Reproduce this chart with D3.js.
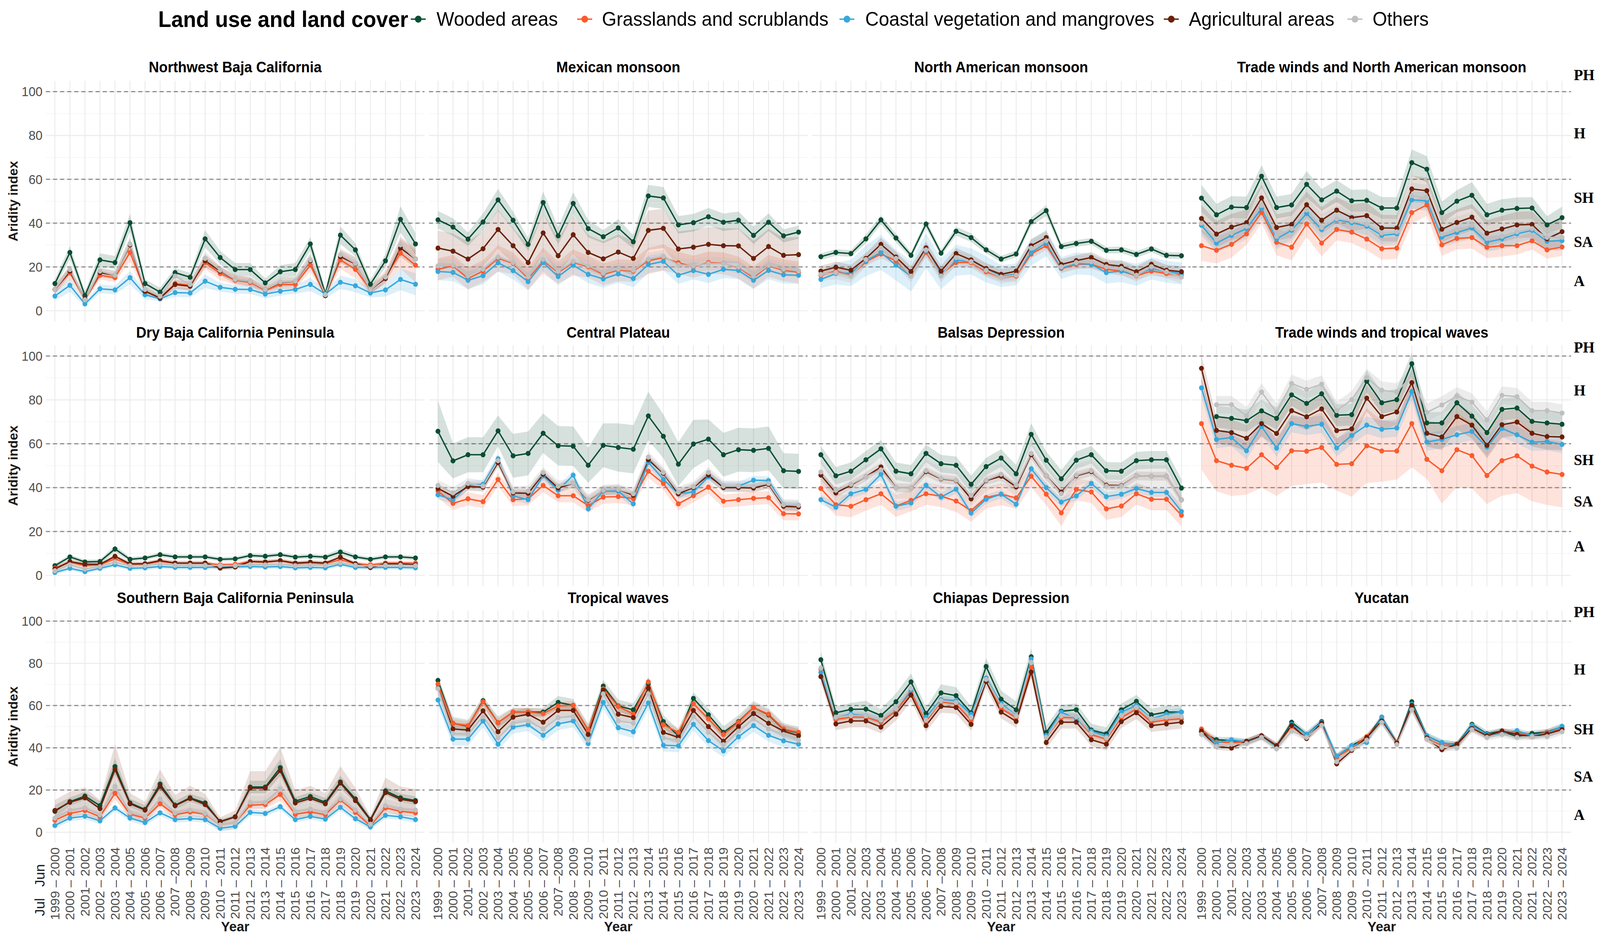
<!DOCTYPE html>
<html><head><meta charset="utf-8">
<script src="https://cdn.jsdelivr.net/npm/d3@7/dist/d3.min.js"></script>
<style>
html,body{margin:0;padding:0;background:#fff;overflow:hidden;width:100%;height:100%}
svg{display:block}
</style>
</head><body>
<svg id="chart" viewBox="0 0 4277 2395" preserveAspectRatio="none" style="width:100vw;height:100vh"></svg>
<script>
// ---------------- DATA ----------------
const regions = ["Northwest Baja California","Mexican monsoon","North American monsoon","Trade winds and North American monsoon",
  "Dry Baja California Peninsula","Central Plateau","Balsas Depression","Trade winds and tropical waves",
  "Southern Baja California Peninsula","Tropical waves","Chiapas Depression","Yucatan"];
const coverTypes = ["Wooded areas","Grasslands and scrublands","Coastal vegetation and mangroves","Agricultural areas","Others"];
const coverColors = ["#0a4d33","#fb5a2d","#36a8dc","#6a2009","#bfbfbf"];
const yearLabels = ["1999 \u2013 2000","2000 \u2013 2001","2001\u2013 2002","2002 \u2013 2003","2003 \u2013 2004","2004 \u2013 2005",
  "2005 \u2013 2006","2006 \u2013 2007","2007 \u20132008","2008 \u2013 2009","2009 \u2013 2010","2010 \u2013 2011","2011 \u2013 2012",
  "2012 \u2013 2013","2013 \u2013 2014","2014 \u2013 2015","2015 \u2013 2016","2016 \u2013 2017","2017 \u2013 2018","2018 \u2013 2019",
  "2019 \u2013 2020","2020 \u2013 2021","2021 \u2013 2022","2022 \u2013 2023","2023 \u2013 2024"];
const yTicks = [0,20,40,60,80,100];
const minorTicks = [10,30,50,70,90];
const zoneThresholds = [20,40,60,100];
const zoneNames = ["PH","H","SH","SA","A"];

const woodedAreas = [
 [12.4,26.6,6.9,23.2,22.0,40.2,12.4,8.5,17.4,15.3,32.8,24.3,18.8,18.8,12.7,17.8,18.8,30.5,7.7,34.5,27.8,12.1,22.8,41.7,30.5],
 [41.5,38.2,32.7,40.5,50.6,41.3,30.3,49.4,34.2,49.0,37.5,33.8,37.8,31.5,52.4,51.5,39.2,40.2,42.9,40.4,41.3,34.4,40.4,34.2,35.9],
 [24.7,26.6,26.1,32.8,41.5,33.2,25.3,39.6,26.3,36.3,33.4,27.8,23.6,25.9,40.7,45.7,29.3,30.7,31.7,27.6,27.8,25.7,28.2,25.3,25.1],
 [51.4,43.8,47.3,47.1,61.4,47.1,48.3,57.7,50.6,54.6,50.2,50.4,46.9,46.9,67.6,64.6,44.8,50.0,52.7,43.8,45.9,46.7,46.9,39.2,42.5],
 [4.4,8.4,6.1,6.3,12.0,7.3,7.9,9.4,8.4,8.4,8.4,7.3,7.5,9.0,8.7,9.4,8.3,8.7,8.3,10.6,8.4,7.3,8.4,8.4,7.9],
 [65.7,52.2,55.0,55.0,65.9,54.5,55.6,64.8,59.1,58.9,50.2,59.3,58.3,57.5,72.7,63.4,50.7,59.9,62.1,55.0,57.3,57.0,57.9,47.7,47.4],
 [55.0,45.4,47.5,52.7,57.7,47.5,46.3,55.6,50.9,50.2,41.5,49.6,53.5,46.3,64.3,52.5,44.0,52.5,55.0,47.7,47.5,52.3,52.7,52.7,39.8],
 [null,72.4,71.6,70.5,75.0,71.6,82.3,78.4,82.8,73.0,73.3,88.5,78.7,80.1,96.5,69.5,69.5,78.7,72.6,65.1,75.7,76.3,70.2,69.5,68.9],
 [9.9,14.5,17.1,12.6,31.1,13.9,10.8,22.8,12.8,16.3,13.9,4.9,7.3,21.4,21.4,30.6,14.7,16.9,14.2,23.8,15.8,6.0,19.6,16.3,15.0],
 [71.9,51.6,50.2,62.3,51.9,56.9,56.9,56.9,61.5,60.1,48.4,69.2,59.8,58.0,70.3,52.4,45.7,63.4,55.6,47.3,52.4,59.1,55.6,48.7,47.0],
 [81.7,56.6,58.2,58.3,55.3,61.8,71.2,56.2,66.0,64.7,56.6,78.5,63.0,58.0,83.1,47.3,57.3,58.0,48.4,46.6,58.0,62.0,55.6,56.9,56.9],
 [47.6,43.8,43.4,42.7,45.5,40.6,52.1,46.3,52.4,35.6,41.0,44.7,54.5,42.3,61.8,45.7,42.3,41.5,51.1,46.6,47.9,45.3,46.8,47.4,50.0]
];
const grasslands = [
 [9.7,17.4,5.0,16.2,15.1,26.6,9.3,5.8,12.4,11.6,22.0,17.0,13.9,12.9,9.3,12.0,12.0,20.8,6.9,23.2,18.9,9.7,15.4,26.3,20.8],
 [18.9,20.5,14.7,18.1,23.9,21.6,14.7,22.8,17.4,22.0,20.1,16.6,18.5,18.1,22.8,24.3,21.9,20.1,22.0,21.6,19.7,15.1,20.5,18.5,17.5],
 [16.2,18.1,16.2,22.4,25.9,22.8,16.2,26.6,16.6,22.0,22.0,17.8,15.4,15.8,25.9,29.7,19.3,21.2,21.2,18.9,18.1,16.0,18.1,17.0,16.2],
 [29.7,27.6,30.3,35.1,44.9,31.3,29.0,39.6,30.9,37.1,35.9,32.7,28.3,28.6,44.8,48.3,30.1,33.0,33.4,29.0,29.7,29.7,31.9,27.8,29.1],
 [3.3,6.0,4.4,4.8,7.5,5.0,5.2,6.3,5.6,5.6,5.6,4.8,5.0,6.3,6.0,6.7,5.3,5.7,5.3,7.1,5.3,4.8,5.6,5.6,5.6],
 [38.4,32.8,34.9,33.6,43.7,34.5,34.9,41.0,36.3,36.3,31.8,35.7,35.9,35.0,47.5,41.9,32.6,36.3,40.2,33.8,34.5,35.1,35.4,28.1,28.0],
 [39.6,32.2,31.5,34.5,37.2,31.6,34.2,37.2,36.1,33.9,29.5,35.5,37.0,35.3,45.2,37.0,28.5,39.2,38.0,30.3,31.6,37.2,34.7,34.7,27.4],
 [69.2,52.3,50.2,48.8,55.0,49.2,56.8,56.6,58.3,50.6,50.9,59.1,56.7,56.7,69.2,52.9,47.7,57.3,54.6,45.5,52.3,54.5,49.8,47.1,46.0],
 [5.7,8.9,10.3,7.3,18.5,8.5,6.7,13.5,8.3,9.6,8.5,3.5,4.6,12.8,13.1,17.9,8.5,9.6,8.3,15.3,9.4,3.0,11.5,9.9,9.2],
 [70.1,51.6,50.5,61.8,51.9,56.9,56.9,56.2,59.8,60.1,48.4,67.9,59.6,55.9,71.2,50.9,47.3,60.9,53.7,46.3,52.1,59.1,55.9,48.9,47.3],
 [77.2,53.4,54.5,54.5,52.1,57.5,66.6,52.4,61.8,60.7,53.0,73.0,58.5,54.3,78.0,44.9,54.3,54.3,46.3,44.1,54.3,58.3,52.1,53.2,53.7],
 [48.9,42.7,42.5,42.7,45.5,41.0,50.0,44.9,51.3,35.6,39.9,45.3,52.7,42.5,60.1,44.1,41.2,41.2,49.5,45.7,47.6,47.3,45.7,47.4,48.9]
];
const coastalVegetation = [
 [6.7,11.6,3.1,10.0,9.5,15.1,7.3,5.4,8.3,8.1,13.5,10.7,9.8,9.7,7.6,8.9,9.7,12.0,7.6,13.0,11.4,8.1,9.5,14.3,12.1],
 [17.9,17.5,13.9,16.0,21.9,18.3,13.3,22.0,15.6,20.8,16.6,14.5,16.8,14.7,21.1,22.5,16.2,18.3,16.6,18.9,18.4,13.9,18.4,16.4,16.2],
 [14.3,17.0,17.2,22.8,26.6,20.8,15.8,27.4,16.8,23.0,22.5,18.9,15.8,16.6,26.6,30.9,19.5,21.6,21.2,17.4,18.1,16.4,19.3,17.8,17.0],
 [39.0,30.9,34.4,37.5,46.7,32.8,36.7,44.4,37.1,41.5,40.2,38.6,34.4,35.1,50.6,50.2,33.6,35.7,37.8,31.3,32.8,35.1,36.7,31.7,32.0],
 [1.3,3.2,1.7,3.2,4.8,3.2,3.4,4.0,3.6,3.6,3.6,3.8,3.8,4.0,3.8,4.0,3.4,3.6,3.4,5.0,3.6,3.5,3.6,3.6,3.4],
 [36.7,34.4,41.1,41.5,53.2,36.2,34.5,45.4,38.8,45.7,30.3,38.4,38.4,32.6,51.5,43.8,37.2,38.0,45.0,40.7,40.7,43.4,43.2,32.2,32.0],
 [34.5,31.1,37.2,39.2,46.1,31.5,33.0,41.1,35.7,39.3,28.4,34.7,37.0,32.4,48.6,40.0,33.4,36.2,41.9,35.9,37.0,39.6,37.8,37.8,29.1],
 [85.5,62.0,62.8,56.8,67.9,58.0,69.2,67.9,68.9,58.1,63.8,68.5,66.6,67.2,83.8,60.8,62.0,64.1,65.6,58.5,67.0,64.1,60.7,61.0,59.7],
 [3.2,6.7,7.6,5.4,11.5,6.7,4.6,9.2,6.0,6.5,6.0,1.9,2.8,9.4,8.9,12.1,6.0,7.5,6.2,11.8,6.4,2.5,8.0,7.3,6.0],
 [62.6,44.1,44.1,52.7,41.7,49.8,50.9,45.9,51.3,52.7,42.0,61.5,49.5,47.6,61.2,41.2,40.9,51.1,43.4,38.5,45.2,50.5,45.9,43.3,41.7],
 [75.6,54.3,55.9,55.1,53.0,58.5,67.3,54.5,62.8,62.3,55.9,73.0,60.9,55.3,82.1,45.9,56.9,53.7,47.9,45.5,56.9,60.1,53.7,55.9,56.9],
 [47.3,42.3,43.8,42.7,45.5,40.6,51.1,46.3,52.0,36.1,41.0,42.5,54.5,42.3,60.7,45.7,42.5,41.2,50.6,46.3,46.8,48.1,45.7,47.0,50.2]
];
const agriculturalAreas = [
 [9.7,18.1,5.4,17.4,16.2,30.1,8.9,5.8,12.0,11.2,22.8,18.1,14.3,13.4,9.7,12.9,13.4,22.8,6.9,24.7,21.4,9.7,14.7,28.6,23.6],
 [28.6,27.2,23.6,28.3,37.1,29.7,22.0,35.5,25.1,34.7,26.6,23.7,26.8,23.9,36.7,37.6,28.2,29.0,30.3,29.7,29.6,23.9,29.3,25.3,25.6],
 [18.1,19.9,18.5,23.9,30.3,24.5,17.9,28.7,18.1,26.1,23.2,19.3,16.6,18.1,29.7,33.4,21.1,22.9,24.3,21.1,20.3,17.8,21.2,18.5,17.8],
 [42.1,35.0,38.2,40.2,51.5,38.0,39.4,48.4,41.3,45.9,42.5,43.4,37.8,37.7,55.6,54.8,37.2,40.3,42.7,35.4,37.3,39.2,39.4,32.8,36.1],
 [2.9,6.3,5.0,5.0,8.7,5.2,5.3,6.7,5.6,5.6,5.6,3.3,3.8,6.3,6.1,6.7,5.6,6.0,5.6,8.3,5.3,3.6,5.2,5.2,4.8],
 [39.6,36.1,40.5,40.2,51.4,37.6,37.4,46.1,39.8,41.9,34.2,38.8,39.2,36.5,52.7,46.5,37.2,40.0,45.7,40.0,40.0,39.8,41.5,31.5,31.2],
 [45.7,37.6,41.1,45.0,49.4,40.0,39.8,47.3,44.0,43.2,34.9,43.2,45.2,40.3,55.0,45.4,38.0,45.4,47.3,41.1,40.9,45.4,45.2,45.2,34.4],
 [94.4,66.1,65.1,62.5,69.2,64.7,75.1,72.3,75.9,66.0,66.8,80.8,72.4,74.5,87.9,64.8,63.1,72.4,68.5,59.3,68.7,69.9,64.8,63.3,63.1],
 [10.3,14.2,16.3,11.2,29.7,13.5,10.5,21.7,12.6,16.0,13.1,5.1,7.3,20.9,20.9,29.2,13.9,16.0,13.5,23.3,15.0,5.7,18.8,15.6,14.5],
 [68.2,48.9,48.4,57.5,47.6,54.5,55.9,52.1,57.7,57.7,46.3,67.3,55.9,54.3,68.2,47.3,44.9,57.7,50.0,43.1,50.0,56.2,51.6,47.9,45.7],
 [73.7,51.3,52.7,52.7,49.8,55.9,65.0,50.5,59.6,59.1,51.1,71.4,56.9,52.5,75.9,42.5,52.1,52.1,43.8,41.7,52.4,56.6,50.5,51.3,52.1],
 [47.9,40.6,39.9,43.1,45.7,41.0,50.6,44.4,51.7,32.4,38.8,44.9,52.7,42.3,60.1,44.7,39.1,41.7,49.1,45.7,47.9,46.3,45.3,46.6,48.6]
];
const otherCovers = [
 [9.7,18.8,5.0,18.1,16.2,30.5,9.7,6.6,15.8,12.0,23.9,18.5,14.3,13.4,9.7,13.1,13.5,23.2,7.3,25.5,21.6,9.7,15.4,30.1,23.6],
 [20.5,20.8,16.0,19.0,24.5,22.0,15.5,23.5,18.0,22.5,20.5,17.2,19.0,18.5,23.5,24.8,21.0,20.5,21.5,21.5,20.0,15.8,20.8,19.0,18.2],
 [16.6,17.4,15.8,23.4,28.6,23.9,15.8,27.8,15.8,24.3,22.4,18.5,15.4,16.2,28.6,32.0,20.1,22.0,22.4,20.1,19.3,16.2,20.1,17.8,15.4],
 [40.0,32.5,35.5,38.5,48.0,34.0,37.5,46.0,38.0,42.0,41.0,39.5,35.5,36.0,52.5,51.5,35.0,37.0,39.0,33.0,34.0,36.0,37.5,33.5,33.5],
 [2.1,4.8,2.9,4.0,6.0,4.4,4.4,5.2,4.6,4.6,4.6,4.4,4.4,4.9,4.8,5.0,4.4,4.6,4.6,5.7,4.6,4.2,4.6,4.6,4.4],
 [41.0,37.6,41.9,40.7,52.3,38.1,38.4,46.9,40.7,41.9,34.5,38.8,39.2,37.2,53.9,46.9,38.0,40.4,46.9,40.7,40.7,40.7,41.9,32.2,32.0],
 [47.1,38.8,41.5,45.0,48.1,40.0,39.8,47.7,44.2,43.4,36.5,43.4,46.1,41.1,55.6,45.4,37.2,45.7,47.7,40.7,40.7,45.4,45.2,45.2,34.4],
 [null,77.8,77.8,72.8,83.6,74.3,87.5,84.8,87.2,75.1,80.1,90.2,84.4,83.6,91.0,74.3,77.7,81.8,79.0,70.9,82.1,81.5,75.1,75.1,74.0],
 [6.7,10.5,11.5,8.3,21.7,9.2,7.5,15.8,9.2,10.5,8.9,3.5,4.6,14.2,14.2,20.6,9.9,11.0,9.4,15.8,10.5,3.8,12.6,11.0,10.5],
 [68.0,46.8,46.6,54.8,44.7,51.6,52.7,48.9,54.3,54.8,43.6,65.5,52.7,51.6,65.5,44.7,43.6,54.8,47.3,41.5,47.9,53.7,48.9,46.3,43.6],
 [77.8,54.5,55.3,55.1,53.2,58.5,68.2,53.2,62.3,61.5,54.5,72.4,60.1,55.1,80.4,44.9,55.1,54.8,47.0,44.7,55.3,59.1,53.7,54.5,54.8],
 [46.3,40.6,41.7,42.0,44.9,39.5,47.9,44.9,50.6,33.4,39.3,43.6,52.0,41.5,58.0,44.1,40.2,39.9,48.6,44.9,46.3,44.9,45.3,45.3,47.6]
];
// half-widths of the shaded uncertainty ribbons
const woodedBand = [
 [2,3,2,3,3,4,2,2,2,2,4,3,3,3,2,3,3,3,2,4,3,2,3,6,5],
 [4,4,3,4,5,4,3,5,4,5,4,3,4,3,5,5,4,4,4,4,4,4,4,3,3],
 [1.5,1.5,1.5,2,2,2,1.5,2,1.5,2,2,1.5,1.5,1.5,2,2.5,1.5,1.5,1.5,1.5,1.5,1.5,1.5,1.5,1.5],
 [6,5,5,5,5,5,5,6,5,5,5,5,5,5,6,6,5,5,6,5,5,5,5,4,5],
 [1,1,1,1,1.5,1,1,1,1,1,1,1,1,1,1,1,1,1,1,1.5,1,1,1,1,1],
 [14,8,8,8,7,10,10,9,9,9,8,10,11,11,11,10,10,11,9,10,10,10,10,8,8],
 [4,4,4,4,4,4,4,4,4,4,4,4,4,4,5,4,4,4,4,4,4,4,4,4,4],
 [0,5,5,5,5,5,5,5,5,5,5,5,5,5,5,5,5,5,5,5,5,5,5,5,5],
 [3,2,2,2,4,2,2,3,2,2,2,1,1,3,3,4,2,2,2,3,2,1,2,2,2],
 [2,3,3,2,3,2,2,2,3,3,3,3,3,3,3,3,3,3,3,3,3,3,3,3,3],
 [4,3,3,4,3,4,4,3,4,4,3,4,4,4,4,3,3,3,3,3,3,3,3,3,3],
 [1.5,1.5,1.5,1.5,1.5,1.5,1.5,1.5,1.5,1.5,1.5,1.5,1.5,1.5,1.5,1.5,1.5,1.5,1.5,1.5,1.5,1.5,1.5,1.5,1.5]
];
const grassBand = [
 [2,3,1,2,2,4,2,1,2,2,3,3,2,2,2,2,2,3,1,4,4,2,3,7,8],
 [5,5,5,5,6,5,5,6,5,6,5,5,5,5,6,6,5,5,5,5,5,5,5,5,5],
 [2,2,2,2,2,2,2,2,2,2,2,2,2,2,2,2,2,2,2,2,2,2,2,2,2],
 [7,6,6,5,5,6,6,6,6,5,5,5,5,5,5,5,5,5,5,5,5,4,4,4,4],
 [1,1,1,1,1,1,1,1,1,1,1,1,1,1,1,1,1,1,1,1,1,1,1,1,1],
 [3,3,3,3,3,3,3,3,3,3,3,3,3,3,3,3,3,3,3,3,3,3,3,3,3],
 [5,5,5,5,5,5,5,5,5,5,5,5,5,5,5,5,6,5,5,5,5,5,5,5,5],
 [21,14,14,12,15,13,16,15,16,12,15,17,14,13,20,9,15,17,15,13,16,17,16,15,15],
 [2,2,2,2,3,2,2,2,2,2,2,1,1,2,2,3,2,2,2,2,2,1,2,2,2],
 [2,2,2,2,2,2,2,2,2,2,2,2,2,2,2,2,2,2,2,2,2,2,2,2,2],
 [2,2,2,2,2,2,2,2,2,2,2,2,2,2,2,2,2,2,2,2,2,2,2,2,2],
 [1.5,1.5,1.5,1.5,1.5,1.5,1.5,1.5,1.5,1.5,1.5,1.5,1.5,1.5,1.5,1.5,1.5,1.5,1.5,1.5,1.5,1.5,1.5,1.5,1.5]
];
const coastalBand = [
 [2,3,1,2,2,3,2,1,2,2,3,2,2,2,2,2,2,3,2,3,3,2,3,5,5],
 [4,4,4,4,4,4,4,4,4,4,4,4,4,4,4,4,4,4,4,4,4,4,4,4,4],
 [4,5,6,7,8,7,7,8,7,7,6,6,5,5,6,6,5,5,5,5,5,5,5,5,5],
 [4,4,4,4,4,4,4,4,4,4,4,4,4,4,4,4,4,4,4,4,4,4,4,4,4],
 [1,1,1,1,1,1,1,1,1,1,1,1,1,1,1,1,1,1,1,1,1,1,1,1,1],
 [2,2,2,2,2,2,2,2,2,2,2,2,2,2,2,2,2,2,2,2,2,2,2,2,2],
 [2,2,2,2,2,2,2,2,2,2,2,2,2,2,2,2,2,2,2,2,2,2,2,2,2],
 [4,4,4,4,4,4,4,4,4,4,4,4,4,4,4,4,4,4,4,4,4,4,4,4,4],
 [1.5,1.5,1.5,1.5,1.5,1.5,1.5,1.5,1.5,1.5,1.5,1.5,1.5,1.5,1.5,1.5,1.5,1.5,1.5,1.5,1.5,1.5,1.5,1.5,1.5],
 [3,3,3,3,3,3,3,3,3,3,3,3,3,3,3,3,3,3,3,3,3,3,3,3,3],
 [2,2,2,2,2,2,2,2,2,2,2,2,2,2,2,2,2,2,2,2,2,2,2,2,2],
 [1.5,1.5,1.5,1.5,1.5,1.5,1.5,1.5,1.5,1.5,1.5,1.5,1.5,1.5,1.5,1.5,1.5,1.5,1.5,1.5,1.5,1.5,1.5,1.5,1.5]
];
const agriBand = [
 [2,2,1,2,2,3,1,1,2,2,3,2,2,2,1,2,2,3,1,3,3,2,2,4,4],
 [8,8,8,8,9,8,8,9,8,9,8,8,8,8,9,9,8,8,8,8,8,8,8,8,8],
 [2.5,2.5,2.5,2.5,3,2.5,2.5,3,2.5,2.5,2.5,2.5,2.5,2.5,3,3,2.5,2.5,2.5,2.5,2.5,2.5,2.5,2.5,2.5],
 [6,6,6,6,6,6,6,6,6,6,6,6,6,6,6,6,6,6,6,6,6,6,6,6,6],
 [1,1,1,1,1,1,1,1,1,1,1,1,1,1,1,1,1,1,1,1,1,1,1,1,1],
 [2,2,2,2,2,2,2,2,2,2,2,2,2,2,2,2,2,2,2,2,2,2,2,2,2],
 [2,2,2,2,2,2,2,2,2,2,2,2,2,2,2,2,2,2,2,2,2,2,2,2,2],
 [6,6,6,6,6,6,6,6,6,6,6,6,6,6,6,6,6,6,6,6,6,6,6,6,6],
 [5,5,5,4,12,5,4,8,5,6,5,2,3,8,8,11,6,6,5,8,6,2,7,6,6],
 [3,3,3,3,3,3,3,3,3,3,3,3,3,3,3,3,3,3,3,3,3,3,3,3,3],
 [3,3,3,3,3,3,3,3,3,3,3,3,3,3,3,3,3,3,3,3,3,3,3,3,3],
 [1.5,1.5,1.5,1.5,1.5,1.5,1.5,1.5,1.5,1.5,1.5,1.5,1.5,1.5,1.5,1.5,1.5,1.5,1.5,1.5,1.5,1.5,1.5,1.5,1.5]
];
const othersBand = [
 [2,2,1,2,2,3,1,1,2,2,3,2,2,2,1,2,2,3,1,3,3,2,2,4,4],
 [3,3,3,3,3,3,3,3,3,3,3,3,3,3,3,3,3,3,3,3,3,3,3,3,3],
 [3,3,3,3,3,3,3,3,3,3,3,3,3,3,3,3,3,3,3,3,3,3,3,3,3],
 [6,6,6,6,6,6,6,6,6,6,6,6,6,6,6,6,6,6,6,6,6,6,6,6,6],
 [1,1,1,1,1,1,1,1,1,1,1,1,1,1,1,1,1,1,1,1,1,1,1,1,1],
 [2.5,2.5,2.5,2.5,2.5,2.5,2.5,2.5,2.5,2.5,2.5,2.5,2.5,2.5,2.5,2.5,2.5,2.5,2.5,2.5,2.5,2.5,2.5,2.5,2.5],
 [5,5,5,5,5,5,5,5,5,5,5,5,5,5,5,5,5,5,5,5,5,5,5,5,5],
 [0,4,4,4,4,4,4,4,4,4,4,4,4,4,4,4,4,4,4,4,4,4,4,4,4],
 [3,3,3,3,3,3,3,3,3,3,3,3,3,3,3,3,3,3,3,3,3,3,3,3,3],
 [3,3,3,3,3,3,3,3,3,3,3,3,3,3,3,3,3,3,3,3,3,3,3,3,3],
 [2,2,2,2,2,2,2,2,2,2,2,2,2,2,2,2,2,2,2,2,2,2,2,2,2],
 [1.5,1.5,1.5,1.5,1.5,1.5,1.5,1.5,1.5,1.5,1.5,1.5,1.5,1.5,1.5,1.5,1.5,1.5,1.5,1.5,1.5,1.5,1.5,1.5,1.5]
];
// zone label vertical placement (in index units) for each panel row
const zoneLabelPos = [[107.8,81.1,51.7,31.6,13.8],[104.1,84.4,52.8,33.8,13.3],[104.5,77.3,49.0,26.6,8.4]];

const seriesValues = [woodedAreas, grasslands, coastalVegetation, agriculturalAreas, otherCovers];
const seriesBands = [woodedBand, grassBand, coastalBand, agriBand, othersBand];

// ---------------- LAYOUT ----------------
const SANS = "'Liberation Sans', Arial, Helvetica, sans-serif";
const SERIF = "'Liberation Serif', 'Times New Roman', Times, serif";
const W = 4277, H = 2395;
const svg = d3.select("#chart");
svg.append("rect").attr("width", W).attr("height", H).attr("fill", "#fff");

const colFirst = [146.7, 1170.7, 2194.2, 3211.6];
const span = 964;
const step = span / 24;
const rowsY = [{y100: 234.6, y0: 795.1}, {y100: 911.1, y0: 1472.1}, {y100: 1589.2, y0: 2129.5}];
const titleY = [172, 851, 1530];
const ribbonOpacity = [0.17, 0.17, 0.17, 0.15, 0.3];

function txt(sel) { return sel.style("font-family", SANS); }

regions.forEach((region, i) => {
  const r = Math.floor(i / 4), c = i % 4;
  const left = colFirst[c] - 0.6 * step, right = colFirst[c] + span + 0.6 * step;
  const x = d3.scalePoint().domain(yearLabels).range([left, right]).padding(0.6);
  const unit = (rowsY[r].y0 - rowsY[r].y100) / 100;
  const top = rowsY[r].y100 - 5 * unit, bottom = rowsY[r].y0 + 5 * unit;
  const y = d3.scaleLinear().domain([-5, 105]).range([bottom, top]);
  const g = svg.append("g");

  // grid
  g.selectAll(".minor").data(minorTicks).join("line")
    .attr("x1", left).attr("x2", right).attr("y1", d => y(d)).attr("y2", d => y(d))
    .attr("stroke", "#f2f2f2").attr("stroke-width", 1.3);
  g.selectAll(".major").data(yTicks).join("line")
    .attr("x1", left).attr("x2", right).attr("y1", d => y(d)).attr("y2", d => y(d))
    .attr("stroke", "#ebebeb").attr("stroke-width", 2.4);
  g.selectAll(".vgrid").data(yearLabels).join("line")
    .attr("x1", d => x(d)).attr("x2", d => x(d)).attr("y1", top).attr("y2", bottom)
    .attr("stroke", "#ebebeb").attr("stroke-width", 2.4);
  g.selectAll(".zone").data(zoneThresholds).join("line")
    .attr("x1", left).attr("x2", right).attr("y1", d => y(d)).attr("y2", d => y(d))
    .attr("stroke", "#8e8e8e").attr("stroke-width", 3).attr("stroke-dasharray", "11 8");

  // ribbons
  seriesValues.forEach((vals, s) => {
    const pts = yearLabels.map((lab, k) => ({lab, v: vals[i][k], b: seriesBands[s][i][k]}));
    const area = d3.area().defined(d => d.v != null)
      .x(d => x(d.lab)).y0(d => y(d.v - d.b)).y1(d => y(d.v + d.b));
    g.append("path").attr("d", area(pts)).attr("fill", coverColors[s]).attr("fill-opacity", ribbonOpacity[s]);
  });
  // lines
  seriesValues.forEach((vals, s) => {
    const pts = yearLabels.map((lab, k) => ({lab, v: vals[i][k]}));
    const line = d3.line().defined(d => d.v != null).x(d => x(d.lab)).y(d => y(d.v));
    g.append("path").attr("d", line(pts)).attr("fill", "none").attr("stroke", coverColors[s])
      .attr("stroke-width", 3.6).attr("stroke-linejoin", "round");
  });
  // points
  seriesValues.forEach((vals, s) => {
    const pts = yearLabels.map((lab, k) => ({lab, v: vals[i][k]})).filter(d => d.v != null);
    g.selectAll(null).data(pts).join("circle")
      .attr("cx", d => x(d.lab)).attr("cy", d => y(d.v)).attr("r", 6.5).attr("fill", coverColors[s]);
  });

  // title
  txt(svg.append("text")).attr("x", (left + right) / 2).attr("y", titleY[r]).attr("text-anchor", "middle")
    .attr("dominant-baseline", "central").attr("font-weight", "bold").attr("font-size", 38).attr("fill", "#000")
    .text(region);

  // y axis labels on first column
  if (c === 0) {
    txt(g.selectAll(".yl").data(yTicks).join("text"))
      .attr("x", 113.7).attr("y", d => y(d)).attr("text-anchor", "end").attr("dominant-baseline", "central")
      .attr("font-size", 33.5).attr("fill", "#4d4d4d").text(d => d);
    txt(svg.append("text")).attr("transform", `translate(35,${(top + bottom) / 2}) rotate(-90)`)
      .attr("text-anchor", "middle").attr("dominant-baseline", "central")
      .attr("font-weight", "bold").attr("font-size", 34).attr("fill", "#1a1a1a").text("Aridity index");
  }
  // zone labels on last column
  if (c === 3) {
    zoneNames.forEach((z, k) => {
      svg.append("text").style("font-family", SERIF).attr("x", 4207).attr("y", y(zoneLabelPos[r][k]))
        .attr("dominant-baseline", "central")
        .attr("font-weight", "bold").attr("font-size", 40).attr("fill", "#000").text(z);
    });
  }
  // x axis on bottom row
  if (r === 2) {
    txt(g.selectAll(".xl").data(yearLabels).join("text"))
      .attr("transform", d => `translate(${x(d)},2168) rotate(-90)`)
      .attr("text-anchor", "end").attr("dominant-baseline", "central")
      .attr("font-size", 33.5).attr("fill", "#4d4d4d").text(d => d);
    txt(svg.append("text")).attr("x", (left + right) / 2).attr("y", 2370).attr("text-anchor", "middle")
      .attr("dominant-baseline", "central").attr("font-weight", "bold").attr("font-size", 36).attr("fill", "#1a1a1a")
      .text("Year");
    if (c === 0) {
      const jx = x(yearLabels[0]) - step;
      txt(svg.append("text")).attr("transform", `translate(${jx},2211) rotate(-90)`).attr("text-anchor", "end")
        .attr("dominant-baseline", "central").attr("font-size", 36).attr("fill", "#1a1a1a").text("Jun");
      txt(svg.append("text")).attr("transform", `translate(${jx},2298) rotate(-90)`).attr("text-anchor", "end")
        .attr("dominant-baseline", "central").attr("font-size", 36).attr("fill", "#1a1a1a").text("Jul");
    }
  }
});

// ---------------- LEGEND ----------------
const legY = 49;
txt(svg.append("text")).attr("x", 423).attr("y", legY).attr("dominant-baseline", "central")
  .attr("font-weight", "bold").attr("font-size", 57).attr("fill", "#000").text("Land use and land cover");
const keyX = [1118, 1563, 2264, 3131, 3622];
const textX = [1167, 1609, 2313, 3178, 3669];
coverTypes.forEach((t, s) => {
  svg.append("line").attr("x1", keyX[s] - 20).attr("x2", keyX[s] + 20).attr("y1", legY).attr("y2", legY)
    .attr("stroke", coverColors[s]).attr("stroke-width", 3.6);
  svg.append("circle").attr("cx", keyX[s]).attr("cy", legY).attr("r", 9).attr("fill", coverColors[s]);
  txt(svg.append("text")).attr("x", textX[s]).attr("y", legY).attr("dominant-baseline", "central")
    .attr("font-size", 50).attr("fill", "#000").text(t);
});
</script>
</body></html>
